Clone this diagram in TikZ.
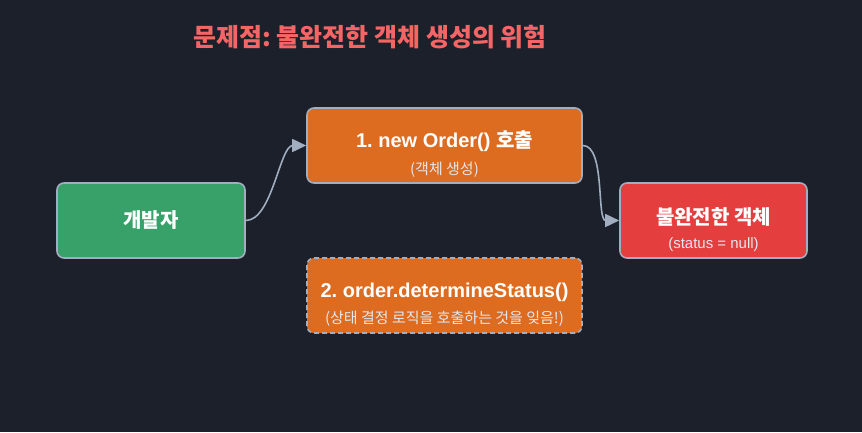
\documentclass[tikz,border=0pt]{standalone}
\usepackage{fontspec}
\setmainfont{Liberation Sans}
\newfontfamily\kr{Noto Sans CJK KR}
\usetikzlibrary{arrows.meta,positioning}
\frenchspacing
\definecolor{night}{HTML}{1B202B}
\definecolor{edge}{HTML}{A0AEC0}
\definecolor{leaf}{HTML}{38A169}
\definecolor{rust}{HTML}{DD6B20}
\definecolor{alarm}{HTML}{E53E3E}
\definecolor{titlered}{HTML}{F56565}
\definecolor{subgray}{HTML}{E2E8F0}
\newcommand{\subtxt}{\mdseries\fontsize{15}{18}\selectfont\color{subgray}}
\newcommand{\lift}[1]{\rule{0pt}{#1}}

\tikzset{
  stepbox/.style={draw=edge,line width=1.6pt,rounded corners=7pt,inner ysep=0pt,
        minimum height=75pt,align=center,text=white,font=\bfseries\fontsize{20}{24}\selectfont},
  flow/.style={draw=edge,line width=1.6pt,-{Triangle[length=14pt,width=13pt]}}
}

\begin{document}
\begin{tikzpicture}[x=1pt,y=-1pt]
  \fill[night] (0,0) rectangle (862,432);
  \useasboundingbox (0,0) rectangle (862,432);

  \node[text=titlered,font=\bfseries\kr\fontsize{25}{29}\selectfont] (title) at (370,37)
    {문제점: 불완전한 객체 생성의 위험};

  % main chain
  \node[stepbox,fill=leaf,minimum width=188pt] (dev) at (151,220.5) {\kr 개발자};
  \node[stepbox,fill=rust,minimum width=275pt] (create) at (444.5,145.5)
    {\lift{33pt}1. new Order() {\kr 호출}\\[3pt]{\subtxt\kr (객체 생성)}};
  \node[stepbox,fill=alarm,minimum width=187pt] (broken) at (713.5,220.5)
    {\lift{35pt}{\kr 불완전한 객체}\\[0pt]{\subtxt (status = null)}};

  % the forgotten step
  \node[stepbox,fill=rust,dashed,dash pattern=on 5pt off 3pt,minimum width=275pt] (status) at (444.5,295.5)
    {\lift{33pt}2. order.determineStatus()\\[2pt]{\subtxt\kr (상태 결정 로직을 호출하는 것을 잊음!)}};

  \draw[flow] (dev.east) to[out=0,in=180,looseness=0.7] (create.west);
  \draw[flow] (create.east) to[out=0,in=180,looseness=0.7] (broken.west);
\end{tikzpicture}
\end{document}
